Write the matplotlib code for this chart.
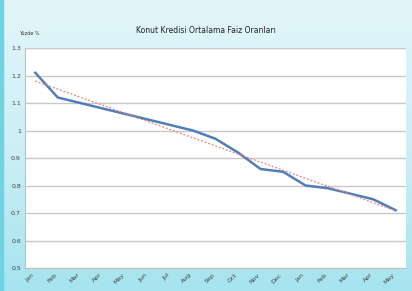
import matplotlib
matplotlib.use('Agg')
import matplotlib.pyplot as plt
import numpy as np
from matplotlib.colors import LinearSegmentedColormap

# data
months = ['Jan', 'Feb', 'Mar', 'Apr', 'May', 'Jun', 'Jul', 'Aug', 'Sep',
          'Oct', 'Nov', 'Dec', 'Jan', 'Feb', 'Mar', 'Apr', 'May']
rates = [1.21, 1.12, 1.10, 1.08, 1.06, 1.04, 1.02, 1.00, 0.97,
         0.92, 0.86, 0.85, 0.80, 0.79, 0.77, 0.75, 0.71]
yticks = [0.5, 0.6, 0.7, 0.8, 0.9, 1.0, 1.1, 1.2, 1.3]
ytick_labels = ['0.5', '0.6', '0.7', '0.8', '0.9', '1', '1.1', '1.2', '1.3']

x = np.arange(len(months))

fig = plt.figure(figsize=(4.12, 2.91), dpi=100, facecolor='#d8f2f7')

# background gradient: pale at the top, more cyan at the bottom
bg = fig.add_axes([0, 0, 1, 1], zorder=-1)
grad = LinearSegmentedColormap.from_list('bg', ['#a6e4ef', '#cdeff6', '#e2f6fa'])
bg.imshow(np.linspace(0, 1, 100).reshape(-1, 1), aspect='auto', cmap=grad,
          origin='lower', extent=[0, 1, 0, 1])
bg.add_patch(plt.Rectangle((0, 0), 0.008, 1, color='#6fd3e3'))
bg.set_xlim(0, 1)
bg.set_ylim(0, 1)
bg.axis('off')

ax = fig.add_axes([0.061, 0.079, 0.924, 0.756])
ax.set_facecolor('white')

# grid
ax.set_axisbelow(True)
ax.yaxis.grid(True, color='#c8c8c8', linewidth=1.0)

# data line
ax.plot(x, rates, color='#4f7fb8', linewidth=1.8, zorder=3)

# linear trend line
k, b = np.polyfit(x, rates, 1)
ax.plot(x, k * x + b, color='#e8807a', linewidth=0.9, linestyle=(0, (1.5, 1.5)), zorder=4)

ax.set_xlim(-0.45, len(months) - 0.55)
ax.set_ylim(0.5, 1.3)
ax.set_yticks(yticks)
ax.set_yticklabels(ytick_labels, fontsize=4.5, color='#404040')
ax.set_xticks(x)
ax.set_xticklabels(months, rotation=45, ha='right', fontsize=4.5, color='#404040')
ax.tick_params(length=0, pad=3)

for side in ['top', 'right']:
    ax.spines[side].set_visible(False)
ax.spines['left'].set_color('#c0c0c0')
ax.spines['bottom'].set_color('#c0c0c0')

fig.text(0.5, 0.895, 'Konut Kredisi Ortalama Faiz Oranları', ha='center', va='center',
         fontsize=5.5, color='#202020')
fig.text(0.045, 0.885, 'Yüzde %', ha='left', va='center', fontsize=3.5, color='#303030')

fig.savefig('out.png', dpi=100, facecolor=fig.get_facecolor())
